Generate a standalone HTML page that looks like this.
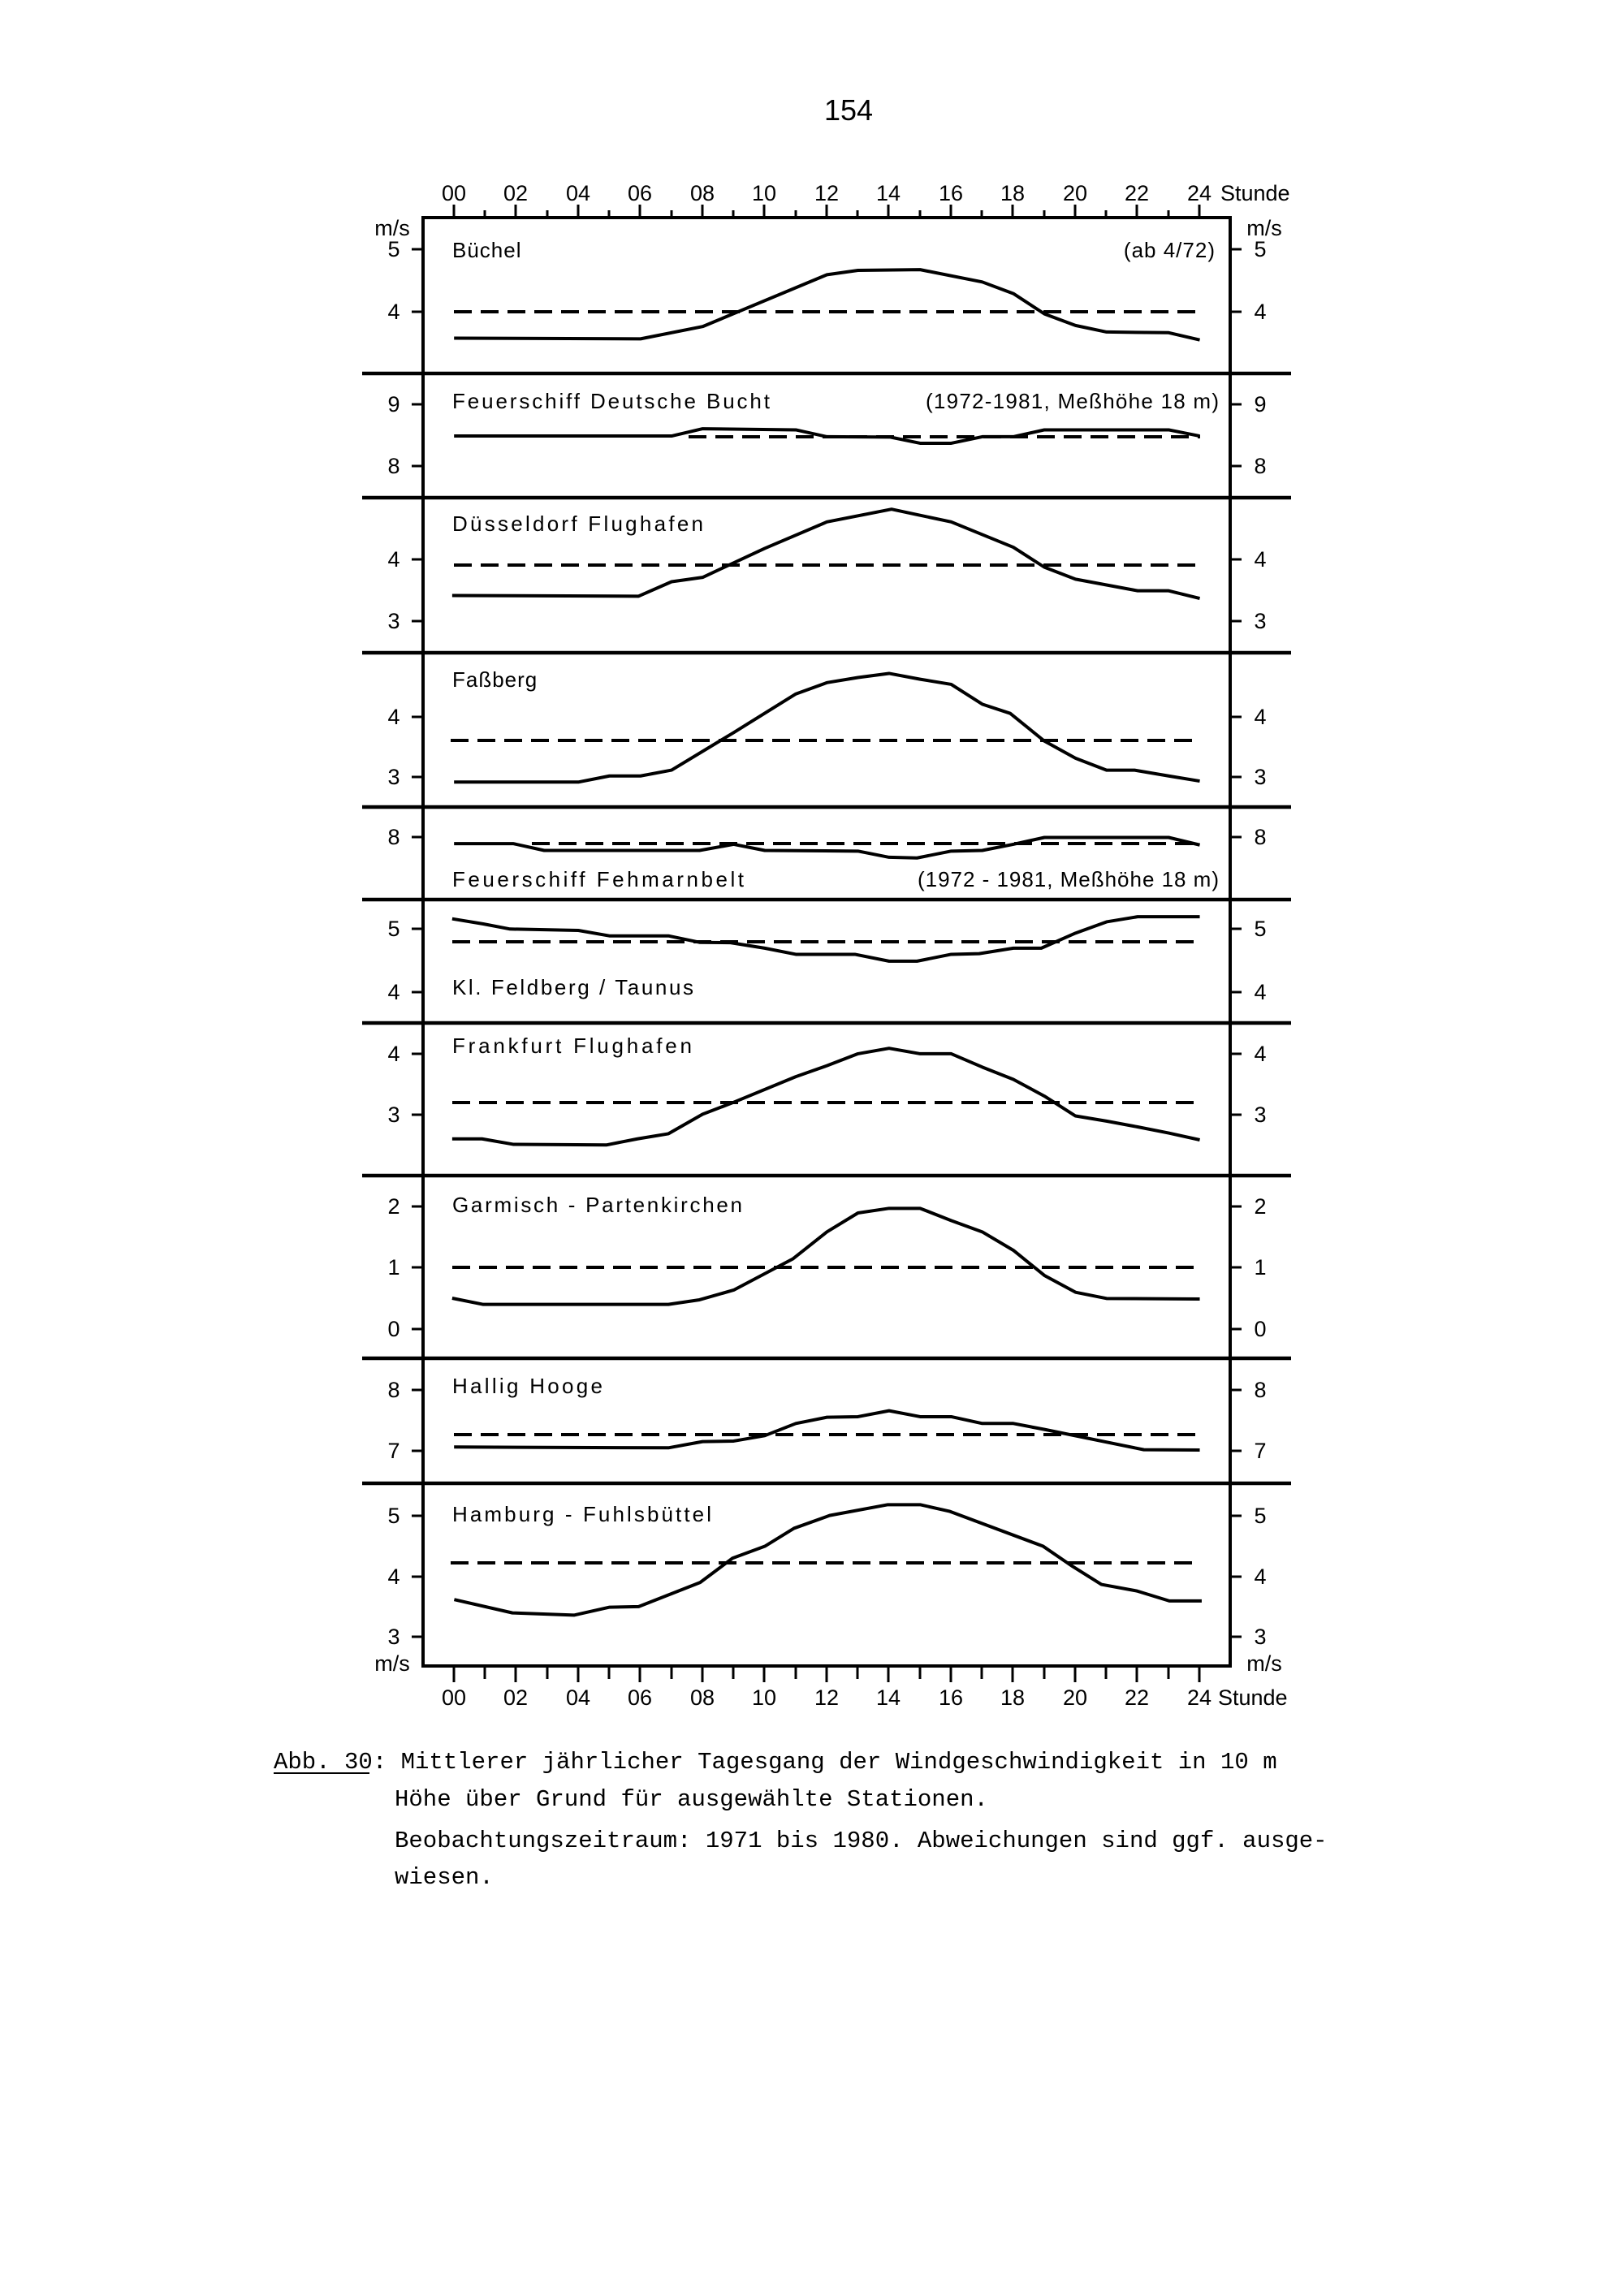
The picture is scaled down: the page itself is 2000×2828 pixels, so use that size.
<!DOCTYPE html>
<html><head><meta charset="utf-8"><style>
html,body{margin:0;padding:0;background:#fff;}
svg{display:block;}
text{font-family:"Liberation Sans",sans-serif;fill:#000;}
.lab{font-size:27px;}
.st{font-size:26px;letter-spacing:1px;}
text.cap{font-family:"Liberation Mono",monospace;font-size:29px;}
</style></head><body>
<svg width="2000" height="2828" viewBox="0 0 2000 2828" xmlns="http://www.w3.org/2000/svg">
<rect width="2000" height="2828" fill="#fff"/>
<text x="1045" y="148" font-size="36" text-anchor="middle">154</text>

<g stroke="#000" fill="none">
<rect x="521" y="268" width="994" height="1784" stroke-width="4"/>
<g stroke-width="4.5">
<line x1="446" y1="460" x2="1590" y2="460"/>
<line x1="446" y1="613" x2="1590" y2="613"/>
<line x1="446" y1="804" x2="1590" y2="804"/>
<line x1="446" y1="994" x2="1590" y2="994"/>
<line x1="446" y1="1108" x2="1590" y2="1108"/>
<line x1="446" y1="1260" x2="1590" y2="1260"/>
<line x1="446" y1="1448" x2="1590" y2="1448"/>
<line x1="446" y1="1673" x2="1590" y2="1673"/>
<line x1="446" y1="1827" x2="1590" y2="1827"/>
</g>
<g stroke-width="3">
<path d="M559 252V268M597 259V268M635 252V268M674 259V268M712 252V268M750 259V268M788 252V268M827 259V268M865 252V268M903 259V268M941 252V268M980 259V268M1018 252V268M1056 259V268M1094 252V268M1133 259V268M1171 252V268M1209 259V268M1247 252V268M1286 259V268M1324 252V268M1362 259V268M1400 252V268M1439 259V268M1477 252V268"/>
<path d="M559 2052V2072M597 2052V2068M635 2052V2072M674 2052V2068M712 2052V2072M750 2052V2068M788 2052V2072M827 2052V2068M865 2052V2072M903 2052V2068M941 2052V2072M980 2052V2068M1018 2052V2072M1056 2052V2068M1094 2052V2072M1133 2052V2068M1171 2052V2072M1209 2052V2068M1247 2052V2072M1286 2052V2068M1324 2052V2072M1362 2052V2068M1400 2052V2072M1439 2052V2068M1477 2052V2072"/>
</g>
<g stroke-width="3">
<path d="M507 307H521M507 384H521M507 498H521M507 574H521M507 689H521M507 765H521M507 883H521M507 957H521M507 1031H521M507 1144H521M507 1222H521M507 1298H521M507 1373H521M507 1486H521M507 1561H521M507 1637H521M507 1712H521M507 1787H521M507 1867H521M507 1942H521M507 2016H521"/>
<path d="M1515 307H1529M1515 384H1529M1515 498H1529M1515 574H1529M1515 689H1529M1515 765H1529M1515 883H1529M1515 957H1529M1515 1031H1529M1515 1144H1529M1515 1222H1529M1515 1298H1529M1515 1373H1529M1515 1486H1529M1515 1561H1529M1515 1637H1529M1515 1712H1529M1515 1787H1529M1515 1867H1529M1515 1942H1529M1515 2016H1529"/>
</g>

<g stroke-width="4" stroke-dasharray="22 11">
<line x1="559" y1="384" x2="1478" y2="384"/>
<line x1="848" y1="538" x2="1478" y2="538"/>
<line x1="559" y1="696" x2="1478" y2="696"/>
<line x1="555" y1="912" x2="1478" y2="912"/>
<line x1="655" y1="1039" x2="1478" y2="1039"/>
<line x1="557" y1="1160" x2="1478" y2="1160"/>
<line x1="557" y1="1358" x2="1478" y2="1358"/>
<line x1="557" y1="1561" x2="1478" y2="1561"/>
<line x1="559" y1="1767" x2="1478" y2="1767"/>
<line x1="555" y1="1925" x2="1476" y2="1925"/>
</g>

<g stroke-width="4" stroke-linejoin="round">
<g transform="translate(400,200) scale(0.7653,0.4464)">
<polyline vector-effect="non-scaling-stroke" points="208,485 508,487 608,453 808,310 858,298 958,296 1058,330 1108,362 1158,418 1208,450 1258,468 1358,470 1408,490"/>
<polyline vector-effect="non-scaling-stroke" points="208,755 558,755 608,735 758,738 808,757 910,758 958,775 1008,775 1058,757 1108,757 1158,738 1358,738 1408,755"/>
<polyline vector-effect="non-scaling-stroke" points="205,1195 505,1197 558,1157 608,1145 708,1065 808,992 912,957 1008,992 1108,1062 1158,1117 1208,1150 1308,1182 1358,1182 1408,1203"/>
</g>
<g transform="translate(400,800) scale(0.7653,0.4209)">
<polyline vector-effect="non-scaling-stroke" points="208,388 408,388 458,370 508,370 558,353 658,243 758,130 808,97 858,82 908,70 958,87 1008,102 1058,160 1103,187 1158,268 1208,318 1258,353 1303,353 1358,370 1408,385"/>
<polyline vector-effect="non-scaling-stroke" points="208,568 303,568 353,588 603,588 658,570 708,588 858,590 908,608 953,610 1008,590 1058,588 1108,570 1158,550 1358,550 1408,572"/>
<polyline vector-effect="non-scaling-stroke" points="205,788 255,803 298,818 408,822 458,838 553,838 603,857 653,858 708,874 758,892 853,892 908,912 953,912 1008,892 1053,890 1108,874 1153,874 1208,830 1258,797 1308,782 1408,782"/>
<polyline vector-effect="non-scaling-stroke" points="205,1432 253,1432 303,1448 453,1450 503,1432 553,1417 608,1360 658,1325 758,1250 808,1218 858,1183 908,1167 958,1183 1008,1183 1058,1222 1108,1258 1158,1307 1208,1365 1258,1380 1308,1397 1358,1415 1408,1435"/>
</g>
<g transform="translate(400,1440) scale(0.7653,0.3333)">
<polyline vector-effect="non-scaling-stroke" points="205,477 255,500 553,500 603,483 658,447 753,332 808,232 858,162 908,145 958,145 1008,190 1058,232 1108,300 1158,393 1208,455 1258,478 1408,480"/>
<polyline vector-effect="non-scaling-stroke" points="208,1027 553,1030 608,1007 658,1005 708,985 758,940 808,917 858,915 908,893 958,915 1008,915 1058,940 1108,940 1158,962 1318,1037 1408,1038"/>
</g>
<g transform="translate(400,1800) scale(0.797,0.3508)">
<polyline vector-effect="non-scaling-stroke" points="200,485 290,532 385,540 440,512 485,510 580,425 630,340 680,298 725,235 780,190 870,152 920,152 965,175 1110,298 1155,368 1200,432 1255,455 1305,490 1355,490"/>
</g>
</g>
</g>

<g class="lab" text-anchor="middle">
<text x="559" y="247">00</text><text x="635" y="247">02</text><text x="712" y="247">04</text><text x="788" y="247">06</text><text x="865" y="247">08</text><text x="941" y="247">10</text><text x="1018" y="247">12</text><text x="1094" y="247">14</text><text x="1171" y="247">16</text><text x="1247" y="247">18</text><text x="1324" y="247">20</text><text x="1400" y="247">22</text><text x="1477" y="247">24</text>
<text x="559" y="2100">00</text><text x="635" y="2100">02</text><text x="712" y="2100">04</text><text x="788" y="2100">06</text><text x="865" y="2100">08</text><text x="941" y="2100">10</text><text x="1018" y="2100">12</text><text x="1094" y="2100">14</text><text x="1171" y="2100">16</text><text x="1247" y="2100">18</text><text x="1324" y="2100">20</text><text x="1400" y="2100">22</text><text x="1477" y="2100">24</text>
</g>
<text class="lab" x="1503" y="247">Stunde</text>
<text class="lab" x="1500" y="2100">Stunde</text>

<g class="lab" text-anchor="middle">
<text x="483" y="290">m/s</text><text x="1557" y="290">m/s</text>
<text x="483" y="2058">m/s</text><text x="1557" y="2058">m/s</text>
<text x="485" y="316">5</text><text x="485" y="393">4</text>
<text x="485" y="507">9</text><text x="485" y="583">8</text>
<text x="485" y="698">4</text><text x="485" y="774">3</text>
<text x="485" y="892">4</text><text x="485" y="966">3</text>
<text x="485" y="1040">8</text>
<text x="485" y="1153">5</text><text x="485" y="1231">4</text>
<text x="485" y="1307">4</text><text x="485" y="1382">3</text>
<text x="485" y="1495">2</text><text x="485" y="1570">1</text><text x="485" y="1646">0</text>
<text x="485" y="1721">8</text><text x="485" y="1796">7</text>
<text x="485" y="1876">5</text><text x="485" y="1951">4</text><text x="485" y="2025">3</text>
</g>
<g class="lab" text-anchor="middle">
<text x="1552" y="316">5</text><text x="1552" y="393">4</text>
<text x="1552" y="507">9</text><text x="1552" y="583">8</text>
<text x="1552" y="698">4</text><text x="1552" y="774">3</text>
<text x="1552" y="892">4</text><text x="1552" y="966">3</text>
<text x="1552" y="1040">8</text>
<text x="1552" y="1153">5</text><text x="1552" y="1231">4</text>
<text x="1552" y="1307">4</text><text x="1552" y="1382">3</text>
<text x="1552" y="1495">2</text><text x="1552" y="1570">1</text><text x="1552" y="1646">0</text>
<text x="1552" y="1721">8</text><text x="1552" y="1796">7</text>
<text x="1552" y="1876">5</text><text x="1552" y="1951">4</text><text x="1552" y="2025">3</text>
</g>

<g class="st">
<text x="557" y="317">Büchel</text>
<text x="1497" y="317" text-anchor="end">(ab 4/72)</text>
<text x="557" y="503" textLength="392">Feuerschiff Deutsche Bucht</text>
<text x="1140" y="503" textLength="362">(1972-1981, Meßhöhe 18 m)</text>
<text x="557" y="654" textLength="310">Düsseldorf Flughafen</text>
<text x="557" y="846">Faßberg</text>
<text x="557" y="1092" textLength="360">Feuerschiff  Fehmarnbelt</text>
<text x="1130" y="1092" textLength="372">(1972 - 1981, Meßhöhe 18 m)</text>
<text x="557" y="1225" textLength="298">Kl. Feldberg / Taunus</text>
<text x="557" y="1297" textLength="296">Frankfurt Flughafen</text>
<text x="557" y="1493" textLength="358">Garmisch - Partenkirchen</text>
<text x="557" y="1716" textLength="186">Hallig Hooge</text>
<text x="557" y="1874" textLength="320">Hamburg - Fuhlsbüttel</text>
</g>

<text class="cap" x="337" y="2178">Abb. 30: Mittlerer jährlicher Tagesgang der Windgeschwindigkeit in 10 m</text>
<line x1="337" y1="2184" x2="455" y2="2184" stroke="#000" stroke-width="2"/>
<text class="cap" x="486" y="2224">Höhe über Grund für ausgewählte Stationen.</text>
<text class="cap" x="486" y="2275">Beobachtungszeitraum: 1971 bis 1980. Abweichungen sind ggf. ausge-</text>
<text class="cap" x="486" y="2320">wiesen.</text>
</svg>
</body></html>
